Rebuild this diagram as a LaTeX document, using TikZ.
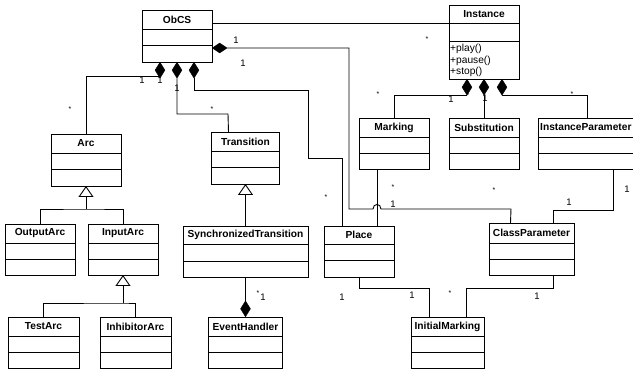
\documentclass[tikz,border=0pt]{standalone}
\usepackage{fontspec}
\setmainfont{Liberation Sans}
\usetikzlibrary{shapes.geometric,arrows.meta}
\newcommand\umlbox[8]{%
  \node[box, minimum width=#4pt, minimum height=#5pt] (#1) at (#2,#3) {};
  \draw[ln] ([yshift=-#6pt]#1.north west) -- ([yshift=-#6pt]#1.north east);
  \draw[ln] ([yshift=-#7pt]#1.north west) -- ([yshift=-#7pt]#1.north east);
  \node[ttl] at ([yshift=-#6pt/2]#1.north) {#8};
}
\begin{document}
\begin{tikzpicture}[x=1pt,y=-1pt,
  box/.style={draw, line width=0.9pt, inner sep=0pt, outer sep=0pt, anchor=north west, rectangle},
  ttl/.style={font=\bfseries\fontsize{10.2}{12}\selectfont, inner sep=0pt},
  ln/.style={line width=0.9pt},
  dia/.style={diamond, fill=black, draw=black, inner sep=0pt, minimum width=10pt, minimum height=16pt},
  hdia/.style={diamond, fill=black, draw=black, inner sep=0pt, minimum width=15pt, minimum height=10pt},
  gen/.style={ln, -{Triangle[open, width=15pt, length=11pt]}},
  lbl/.style={font=\fontsize{9.5}{10}\selectfont, inner sep=0pt},
  star/.style={font=\fontsize{7}{8}\selectfont, inner sep=0pt},
]
\useasboundingbox (0,0) rectangle (633,371);
\clip (0,0) rectangle (633,371);
\fill[white] (0,0) rectangle (633,371);

% classes
\umlbox{obcs}{142}{10}{70}{52}{19}{35}{ObCS}
\umlbox{inst}{449}{5}{70}{74}{18}{36}{Instance}
\node[anchor=north west, font=\fontsize{10.2}{11.5}\selectfont, align=left, inner sep=0pt] (meth) at ([xshift=1pt,yshift=-39pt]inst.north west) {+play()\\+pause()\\+stop()};
\umlbox{marking}{359}{118}{70}{51}{19}{35}{Marking}
\umlbox{subst}{449}{118}{70}{51}{19}{35}{Substitution}
\umlbox{ip}{538}{118}{110}{51}{19}{35}{}
\node[ttl, anchor=west] (iptitle) at ([xshift=2pt,yshift=-9.5pt]ip.north west) {InstanceParameter};
\umlbox{arc}{51}{134}{70}{52}{19}{35}{Arc}
\umlbox{trans}{211.5}{132}{68}{52}{19}{35}{Transition}
\umlbox{outarc}{5}{224}{70}{51}{19}{35}{OutputArc}
\umlbox{inarc}{88}{224}{70}{51}{19}{35}{InputArc}
\umlbox{synch}{183}{226}{125}{51}{18}{35}{SynchronizedTransition}
\umlbox{test}{8}{317}{71}{51}{19}{35}{TestArc}
\umlbox{inhib}{100}{317}{71}{51}{19}{35}{InhibitorArc}
\umlbox{eh}{208.5}{317}{74}{51}{19}{35}{EventHandler}
\umlbox{place}{324}{226}{70}{51}{18}{34}{Place}
\umlbox{cp}{489}{223}{85}{52}{20}{36}{ClassParameter}
\umlbox{im}{411}{317}{73}{51}{19}{35}{InitialMarking}

% diamonds
\node[dia, anchor=north] (dOa) at ([xshift=-17pt]obcs.south) {};
\node[dia, anchor=north] (dOb) at (obcs.south) {};
\node[dia, anchor=north] (dOc) at ([xshift=17pt]obcs.south) {};
\node[hdia, anchor=west] (dOr) at ([yshift=-12pt]obcs.east) {};
\node[dia, anchor=north] (dIa) at ([xshift=-17pt]inst.south) {};
\node[dia, anchor=north] (dIb) at (inst.south) {};
\node[dia, anchor=north] (dIc) at ([xshift=18pt]inst.south) {};
\node[dia, anchor=south] (dE) at (eh.north) {};

% associations
\coordinate (oi) at ([yshift=-13pt]obcs.north east);
\draw[ln] (oi) -- (oi -| inst.west);
\draw[ln] (dOr.east) -| (349,209) -- (373,209) .. controls (373,203) and (381,203) .. (381,209) -- (511,209) -- ([xshift=-21pt]cp.north);
\draw[ln] ([xshift=75pt]ip.south west) |- (553,210) -- ([xshift=21.5pt]cp.north);
\draw[ln] ([yshift=2pt]dOa.south) -| (arc.north);
\draw[ln] (dOb.south) |- (228,114) -- ([xshift=-17pt]trans.north);
\draw[ln] (dOc.south) |- (308,90) |- (342,158) -- ([xshift=-17pt]place.north);
\draw[ln] ([xshift=-17pt]marking.south) -- ([xshift=18pt]place.north);
\draw[ln] (dIa.south) -| (marking.north);
\draw[ln] (dIb.south) -- (subst.north);
\draw[ln] (dIc.south) -| ([xshift=49pt]ip.north west);
\draw[ln] ([xshift=21.5pt]cp.south) |- (466,288) -- ([xshift=18.5pt]im.north);
\draw[ln] (place.south) |- (429,288) -- ([xshift=-18.5pt]im.north);
\draw[ln] (synch.south) -- (dE.north);

% generalizations
\coordinate (j1) at (86,209);
\draw[ln] (outarc.north) |- (j1) -| (inarc.north);
\draw[gen] (j1) -- (arc.south);
\coordinate (j2) at (123,303);
\draw[ln] (test.north) |- (j2) -| (inhib.north);
\draw[gen] (j2) -- (inarc.south);
\draw[gen] (synch.north) -- (trans.south);

% multiplicities
\node[star] (m1) at (427,39) {*};
\node[lbl] (m2) at (236,40) {1};
\node[lbl] (m3) at (243,63) {1};
\node[lbl] (m4) at (142,80) {1};
\node[lbl] (m5) at (160,80) {1};
\node[lbl] (m6) at (177,88) {1};
\node[star] (m7) at (70,109) {*};
\node[star] (m8) at (212,109) {*};
\node[star] (m9) at (378,94) {*};
\node[lbl] (m10) at (451,99) {1};
\node[star] (m11) at (468,95) {*};
\node[lbl] (m12) at (485,98) {1};
\node[star] (m13) at (572,94) {*};
\node[star] (m14) at (393,187) {*};
\node[lbl] (m15) at (393,204) {1};
\node[star] (m16) at (326,197) {*};
\node[star] (m17) at (494,190) {*};
\node[lbl] (m18) at (627,189) {1};
\node[lbl] (m19) at (569,202) {1};
\node[lbl] (m20) at (342,297) {1};
\node[lbl] (m21) at (412,295) {1};
\node[star] (m22) at (450,293) {*};
\node[lbl] (m23) at (537,296) {1};
\node[lbl] (m24) at (263,297) {1};
\node[star] (m25) at (258,293) {*};
\end{tikzpicture}
\end{document}
